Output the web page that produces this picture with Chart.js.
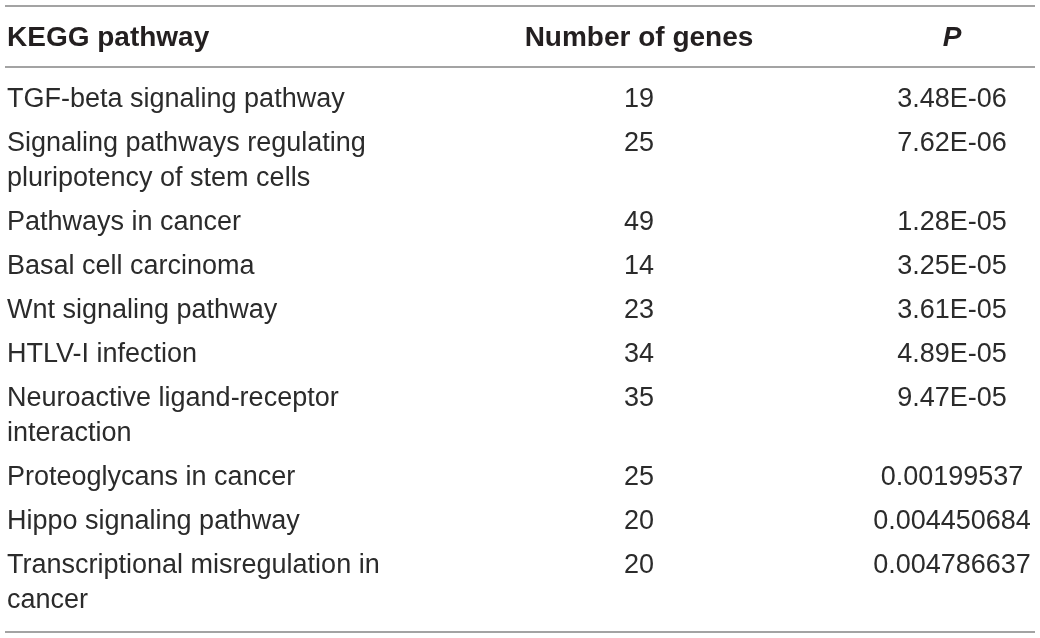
<!DOCTYPE html>
<html>
<head>
<meta charset="utf-8">
<script src="https://cdn.jsdelivr.net/npm/chart.js@4.4.1/dist/chart.umd.min.js"></script>
<style>
    html, body { margin: 0; padding: 0; background: #ffffff; }
    #tabla { display: block; }
</style>
</head>
<body>
<canvas id="tabla" width="1040" height="638"></canvas>
<script>
const headers = ["KEGG pathway", "Number of genes", "P"];
const pathways = [
    "TGF-beta signaling pathway",
    "Signaling pathways regulating pluripotency of stem cells",
    "Pathways in cancer",
    "Basal cell carcinoma",
    "Wnt signaling pathway",
    "HTLV-I infection",
    "Neuroactive ligand-receptor interaction",
    "Proteoglycans in cancer",
    "Hippo signaling pathway",
    "Transcriptional misregulation in cancer"
];
const geneCounts = [19, 25, 49, 14, 23, 34, 35, 25, 20, 20];
const pValues = [
    "3.48E-06", "7.62E-06", "1.28E-05", "3.25E-05", "3.61E-05",
    "4.89E-05", "9.47E-05", "0.00199537", "0.004450684", "0.004786637"
];

document.addEventListener("DOMContentLoaded", function () {
    const canvas = document.getElementById("tabla");

    const bodyFont = "27px 'Liberation Sans', Arial, sans-serif";
    const headFont = "bold 28px 'Liberation Sans', Arial, sans-serif";
    const headColor = "#231f20";
    const textColor = "#2b2b2b";
    const ruleColor = "#a3a3a3";

    // column anchors and vertical layout, in scale units (same as pixels here)
    const colLeft = 7;
    const colGenes = 639;
    const colP = 952;
    const wrapWidth = 390;
    const headerBase = 46;
    const firstBase = 107;
    const rowGap = 44;
    const lineGap = 35;
    const rules = [6, 67, 632];

    function wrap(ctx, text) {
        const words = text.split(" ");
        const lines = [];
        let line = "";
        words.forEach(w => {
            const test = line ? line + " " + w : w;
            if (line && ctx.measureText(test).width > wrapWidth) {
                lines.push(line);
                line = w;
            } else {
                line = test;
            }
        });
        if (line) lines.push(line);
        return lines;
    }

    // row baselines depend on how many lines each pathway takes
    const measureCtx = canvas.getContext("2d");
    measureCtx.font = bodyFont;
    const wrapped = pathways.map(p => wrap(measureCtx, p));
    const baselines = [];
    let y = firstBase;
    wrapped.forEach(lines => {
        baselines.push(y);
        y += rowGap + lineGap * (lines.length - 1);
    });

    const tablePlugin = {
        id: "tablaTexto",
        afterDraw(chart) {
            const ctx = chart.ctx;
            const sx = chart.scales.x;
            const sy = chart.scales.y;
            ctx.save();

            ctx.strokeStyle = ruleColor;
            ctx.lineWidth = 2;
            rules.forEach(r => {
                ctx.beginPath();
                ctx.moveTo(sx.getPixelForValue(5), sy.getPixelForValue(r));
                ctx.lineTo(sx.getPixelForValue(1035), sy.getPixelForValue(r));
                ctx.stroke();
            });

            ctx.textBaseline = "alphabetic";

            ctx.fillStyle = headColor;
            ctx.font = headFont;
            ctx.textAlign = "left";
            ctx.fillText(headers[0], sx.getPixelForValue(colLeft), sy.getPixelForValue(headerBase));
            ctx.textAlign = "center";
            ctx.fillText(headers[1], sx.getPixelForValue(colGenes), sy.getPixelForValue(headerBase));
            ctx.font = "italic " + headFont;
            ctx.fillText(headers[2], sx.getPixelForValue(colP), sy.getPixelForValue(headerBase));

            ctx.fillStyle = textColor;
            ctx.font = bodyFont;
            wrapped.forEach((lines, i) => {
                ctx.textAlign = "left";
                lines.forEach((ln, j) => {
                    ctx.fillText(ln, sx.getPixelForValue(colLeft), sy.getPixelForValue(baselines[i] + j * lineGap));
                });
                ctx.textAlign = "center";
                ctx.fillText(String(geneCounts[i]), sx.getPixelForValue(colGenes), sy.getPixelForValue(baselines[i]));
                ctx.fillText(pValues[i], sx.getPixelForValue(colP), sy.getPixelForValue(baselines[i]));
            });

            ctx.restore();
        }
    };

    new Chart(canvas, {
        type: "scatter",
        data: {
            datasets: [{
                label: "Number of genes",
                data: geneCounts.map((g, i) => ({ x: colGenes, y: baselines[i] })),
                pointRadius: 0,
                pointHoverRadius: 0
            }]
        },
        options: {
            responsive: false,
            animation: false,
            events: [],
            layout: { padding: 0 },
            plugins: {
                legend: { display: false },
                tooltip: { enabled: false }
            },
            scales: {
                x: { type: "linear", min: 0, max: 1040, display: false },
                y: { type: "linear", min: 0, max: 638, reverse: true, display: false }
            }
        },
        plugins: [tablePlugin]
    });
});
</script>
</body>
</html>
